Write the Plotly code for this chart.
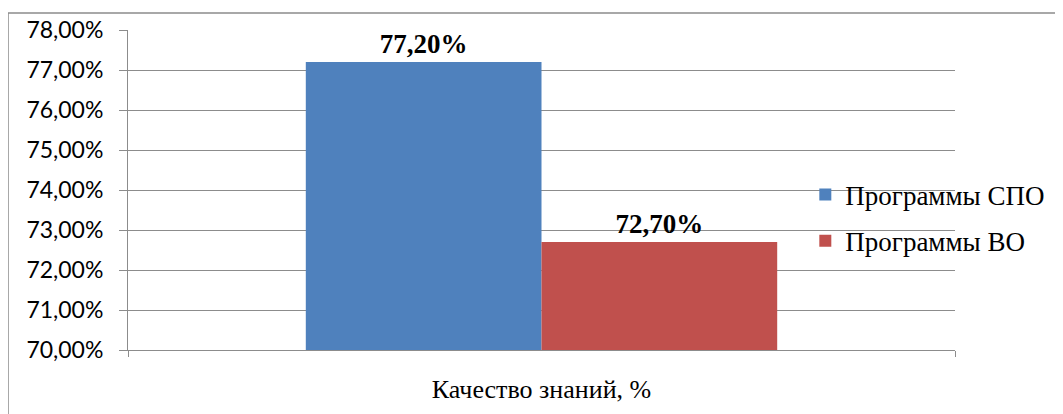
import plotly.graph_objects as go

categories = ["Качество знаний, %"]
series_names = ["Программы СПО", "Программы ВО"]
spo_values = [77.2]
vo_values = [72.7]
colors = ["#4F81BD", "#C0504D"]
y_ticks = [70, 71, 72, 73, 74, 75, 76, 77, 78]


def pct(v):
    return f"{v:.2f}%".replace(".", ",")


fig = go.Figure()
for name, vals, col, grp in zip(series_names, [spo_values, vo_values], colors, ["a", "b"]):
    fig.add_trace(go.Bar(
        x=categories, y=vals, name=name, marker=dict(color=col, line=dict(width=0)),
        text=[pct(v) for v in vals],
        textposition="outside", cliponaxis=False, legendgroup=grp,
        textfont=dict(family="Liberation Serif", size=27, color="black", weight="bold"),
    ))

fig.update_layout(
    width=1063, height=414,
    barmode="group", bargap=0.43, bargroupgap=0,
    paper_bgcolor="white", plot_bgcolor="white",
    margin=dict(l=120, r=116, t=22, b=72, autoexpand=False),
    showlegend=True,
    legend=dict(x=0.819, y=0.4125, xanchor="left", yanchor="middle",
                font=dict(family="Liberation Serif", size=27, color="black"),
                tracegroupgap=8, bgcolor="rgba(0,0,0,0)"),
)
fig.update_yaxes(
    range=[70, 78], tickvals=y_ticks, ticktext=[pct(v) for v in y_ticks],
    showgrid=True, gridcolor="#8C8C8C", gridwidth=1,
    showline=True, linecolor="#8C8C8C", linewidth=1,
    ticks="outside", ticklen=8, tickcolor="#8C8C8C",
    tickfont=dict(family="Lato", size=23, color="black"),
    ticklabelstandoff=11, zeroline=False, automargin=False,
)
fig.update_xaxes(
    showline=True, linecolor="#8C8C8C", linewidth=1,
    ticks="outside", ticklen=6, tickcolor="#8C8C8C", tickson="boundaries",
    tickfont=dict(family="Liberation Serif", size=26, color="black"),
    ticklabelstandoff=16, automargin=False,
)
fig.add_shape(type="rect", xref="paper", yref="paper",
              x0=-0.1451, x1=1.127, y0=-0.25, y1=1.053,
              line=dict(color="#8C8C8C", width=1.5), fillcolor="rgba(0,0,0,0)")

fig.write_html("out.html")
